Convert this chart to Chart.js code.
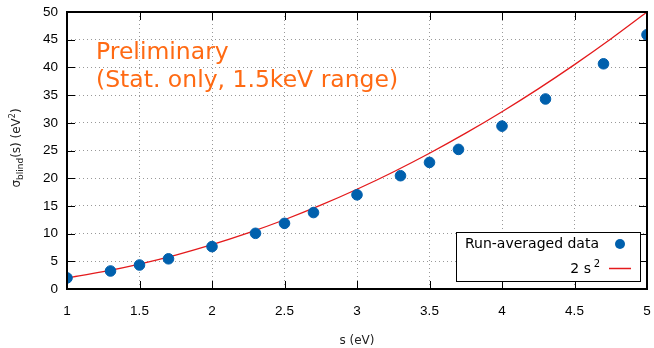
<!DOCTYPE html>
<html>
<head>
<meta charset="utf-8">
<script src="https://cdn.jsdelivr.net/npm/chart.js@4"></script>
<style>
  html, body { margin: 0; padding: 0; background: #fff; }
  #wrap { width: 654px; height: 348px; }
</style>
</head>
<body>
<div id="wrap"><canvas id="chart" width="654" height="348"></canvas></div>
<script>
// measured points
const sValues = [1, 1.3, 1.5, 1.7, 2, 2.3, 2.5, 2.7, 3, 3.3, 3.5, 3.7, 4, 4.3, 4.7, 5];
const sigmaValues = [2.0, 3.25, 4.33, 5.45, 7.65, 10.05, 11.85, 13.8, 17.0, 20.45, 22.85, 25.2, 29.4, 34.3, 40.65, 45.9];

// 2 s^2 curve, read at 0.25 steps
const curveS = [1, 1.25, 1.5, 1.75, 2, 2.25, 2.5, 2.75, 3, 3.25, 3.5, 3.75, 4, 4.25, 4.5, 4.75, 5];
const curveY = [2, 3.125, 4.5, 6.125, 8, 10.125, 12.5, 15.125, 18, 21.125, 24.5, 28.125, 32, 36.125, 40.5, 45.125, 50];

const xTicks = [1, 1.5, 2, 2.5, 3, 3.5, 4, 4.5, 5];
const yTicks = [0, 5, 10, 15, 20, 25, 30, 35, 40, 45, 50];

const blue = '#0060ad';
const red = '#e41a1c';
const orange = '#ff6a13';

// frame, inward ticks, labels, legend
const decor = {
  id: 'decor',
  afterDatasetsDraw(chart) {
    const ctx = chart.ctx;
    const { left, right, top, bottom } = chart.chartArea;
    const x = chart.scales.x, y = chart.scales.y;
    ctx.save();
    ctx.strokeStyle = '#000';
    ctx.lineWidth = 1;
    xTicks.forEach(v => {
      const px = Math.round(x.getPixelForValue(v)) + 0.5;
      ctx.beginPath();
      ctx.moveTo(px, bottom); ctx.lineTo(px, bottom - 8);
      ctx.moveTo(px, top); ctx.lineTo(px, top + 8);
      ctx.stroke();
    });
    yTicks.forEach(v => {
      const py = Math.round(y.getPixelForValue(v)) + 0.5;
      ctx.beginPath();
      ctx.moveTo(left, py); ctx.lineTo(left + 8, py);
      ctx.moveTo(right, py); ctx.lineTo(right - 8, py);
      ctx.stroke();
    });
    ctx.lineWidth = 2;
    ctx.strokeRect(left, top, right - left, bottom - top);

    // annotation
    ctx.fillStyle = orange;
    ctx.font = '23.5px "DejaVu Sans", sans-serif';
    ctx.textAlign = 'left';
    ctx.textBaseline = 'alphabetic';
    ctx.fillText('Preliminary', 96, 59);
    ctx.fillText('(Stat. only, 1.5keV range)', 96, 87);

    // legend
    const bx = 456, by = 232, bw = 184, bh = 49;
    ctx.fillStyle = '#fff';
    ctx.fillRect(bx, by, bw, bh);
    ctx.lineWidth = 1;
    ctx.strokeStyle = '#000';
    ctx.strokeRect(bx + 0.5, by + 0.5, bw, bh);
    ctx.fillStyle = '#000';
    ctx.font = '14px "DejaVu Sans", sans-serif';
    ctx.textAlign = 'right';
    ctx.textBaseline = 'middle';
    ctx.fillText('Run-averaged data', 599, 244);
    ctx.fillStyle = blue;
    ctx.beginPath();
    ctx.arc(620, 244, 5, 0, Math.PI * 2);
    ctx.fill();
    ctx.fillStyle = '#000';
    ctx.font = '10px "DejaVu Sans", sans-serif';
    ctx.fillText('2', 600, 264);
    ctx.font = '14px "DejaVu Sans", sans-serif';
    ctx.fillText('2 s', 591, 269);
    ctx.strokeStyle = red;
    ctx.lineWidth = 1.5;
    ctx.beginPath();
    ctx.moveTo(609, 268.5); ctx.lineTo(631, 268.5);
    ctx.stroke();

    // axis titles
    ctx.fillStyle = '#222';
    ctx.font = '12px "DejaVu Sans", sans-serif';
    ctx.textAlign = 'center';
    ctx.textBaseline = 'alphabetic';
    ctx.fillText('s (eV)', (left + right) / 2, 344);

    ctx.translate(20, 148);
    ctx.rotate(-Math.PI / 2);
    ctx.textAlign = 'left';
    const parts = [
      ['σ', '12px', 0],
      ['blind', '9px', 3],
      ['(s) (eV', '12px', 0],
      ['2', '8px', -5],
      [')', '12px', 0]
    ];
    let w = 0;
    parts.forEach(p => { ctx.font = p[1] + ' "DejaVu Sans", sans-serif'; w += ctx.measureText(p[0]).width; });
    let cx = -w / 2;
    parts.forEach(p => {
      ctx.font = p[1] + ' "DejaVu Sans", sans-serif';
      ctx.fillText(p[0], cx, p[2]);
      cx += ctx.measureText(p[0]).width;
    });
    ctx.restore();
  }
};

new Chart(document.getElementById('chart'), {
  type: 'scatter',
  data: {
    datasets: [
      {
        label: '2 s^2',
        type: 'line',
        data: curveS.map((s, i) => ({ x: s, y: curveY[i] })),
        borderColor: red,
        borderWidth: 1.3,
        pointRadius: 0,
        cubicInterpolationMode: 'monotone',
        fill: false,
        order: 2
      },
      {
        label: 'Run-averaged data',
        data: sValues.map((s, i) => ({ x: s, y: sigmaValues[i] })),
        backgroundColor: blue,
        borderColor: blue,
        pointRadius: 5.3,
        order: 1
      }
    ]
  },
  options: {
    responsive: false,
    animation: false,
    layout: { padding: { left: 0, right: 7, top: 12, bottom: 0 } },
    plugins: { legend: { display: false }, tooltip: { enabled: false } },
    scales: {
      x: {
        type: 'linear',
        min: 1, max: 5,
        afterBuildTicks: s => { s.ticks = xTicks.map(v => ({ value: v })); },
        afterFit: s => { s.height = 59; s.paddingLeft = 0; s.paddingRight = 0; },
        grid: { color: '#999', lineWidth: 1, drawTicks: false },
        border: { display: false, dash: [1, 3] },
        ticks: { padding: 14, color: '#000', callback: v => String(v), font: { family: '"Liberation Sans", Arial, sans-serif', size: 13.5 }, maxRotation: 0 }
      },
      y: {
        type: 'linear',
        min: 0, max: 50,
        afterBuildTicks: s => { s.ticks = yTicks.map(v => ({ value: v })); },
        afterFit: s => { s.width = 67; s.paddingTop = 0; s.paddingBottom = 0; },
        grid: { color: '#999', lineWidth: 1, drawTicks: false },
        border: { display: false, dash: [1, 3] },
        ticks: { padding: 9, color: '#000', callback: v => String(v), font: { family: '"Liberation Sans", Arial, sans-serif', size: 13.5 } }
      }
    }
  },
  plugins: [decor]
});
</script>
</body>
</html>
